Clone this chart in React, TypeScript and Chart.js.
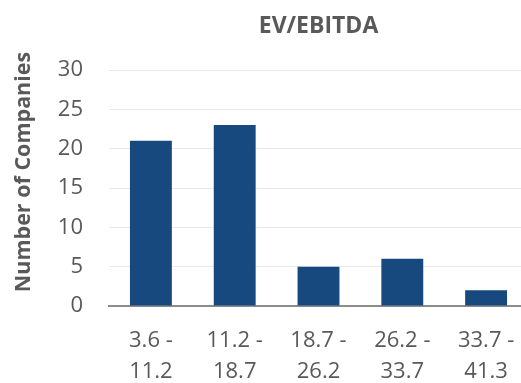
import React, { useEffect, useRef } from "react";
import { Chart, registerables } from "chart.js";

Chart.register(...registerables);

const categories: string[][] = [
  ["3.6 -", "11.2"],
  ["11.2 -", "18.7"],
  ["18.7 -", "26.2"],
  ["26.2 -", "33.7"],
  ["33.7 -", "41.3"],
];
const companyCounts: number[] = [21, 23, 5, 6, 2];
const chartTitle = "EV/EBITDA";
const yAxisTitle = "Number of Companies";

const FONT = "'Open Sans', sans-serif";
const TEXT = "#595959";

// draws the y-axis title centred slightly above the plot centre, as in the reference
const yTitlePlugin = {
  id: "yTitle",
  afterDraw(chart: any) {
    const ctx = chart.ctx;
    const area = chart.chartArea;
    ctx.save();
    ctx.translate(24, (area.top + area.bottom) / 2 - 16);
    ctx.rotate(-Math.PI / 2);
    ctx.fillStyle = TEXT;
    ctx.font = `bold 21.5px ${FONT}`;
    ctx.textAlign = "center";
    ctx.textBaseline = "middle";
    ctx.fillText(yAxisTitle, 0, 0);
    ctx.restore();
  },
};

export default function App() {
  const ref = useRef<HTMLCanvasElement | null>(null);
  useEffect(() => {
    if (!ref.current) return;
    const chart = new Chart(ref.current, {
      type: "bar",
      data: {
        labels: categories,
        datasets: [
          {
            data: companyCounts,
            backgroundColor: "#17497E",
            borderWidth: 0,
            categoryPercentage: 1,
            barPercentage: 0.5,
          },
        ],
      },
      plugins: [yTitlePlugin],
      options: {
        animation: false,
        responsive: true,
        maintainAspectRatio: false,
        layout: { padding: { top: 13, right: 0, bottom: 0, left: 0 } },
        plugins: {
          legend: { display: false },
          tooltip: { enabled: false },
          title: {
            display: true,
            text: chartTitle,
            fullSize: false,
            color: TEXT,
            font: { family: FONT, size: 23, weight: "bold", lineHeight: 1.2 },
            padding: { top: 0, bottom: 29.4 },
          },
        },
        scales: {
          x: {
            grid: { display: false, drawTicks: false },
            border: { display: true, color: "#8c8c8c", width: 2 },
            ticks: {
              color: TEXT,
              font: { family: FONT, size: 22, lineHeight: 1.41 },
              padding: 19,
              maxRotation: 0,
              autoSkip: false,
            },
            afterFit: (scale: any) => {
              scale.height = 77;
              scale.paddingLeft = 0;
              scale.paddingRight = 0;
            },
          },
          y: {
            min: 0,
            max: 30,
            ticks: {
              stepSize: 5,
              color: TEXT,
              font: { family: FONT, size: 22 },
              padding: 26,
            },
            grid: { color: "#e9e9e9", lineWidth: 1, drawTicks: false },
            border: { display: false },
            afterFit: (scale: any) => {
              scale.width = 109;
            },
          },
        },
      },
    });
    return () => chart.destroy();
  }, []);
  return (
    <div style={{ position: "fixed", left: 0, top: 0, width: 528, height: 383 }}>
      <canvas ref={ref} />
    </div>
  );
}
